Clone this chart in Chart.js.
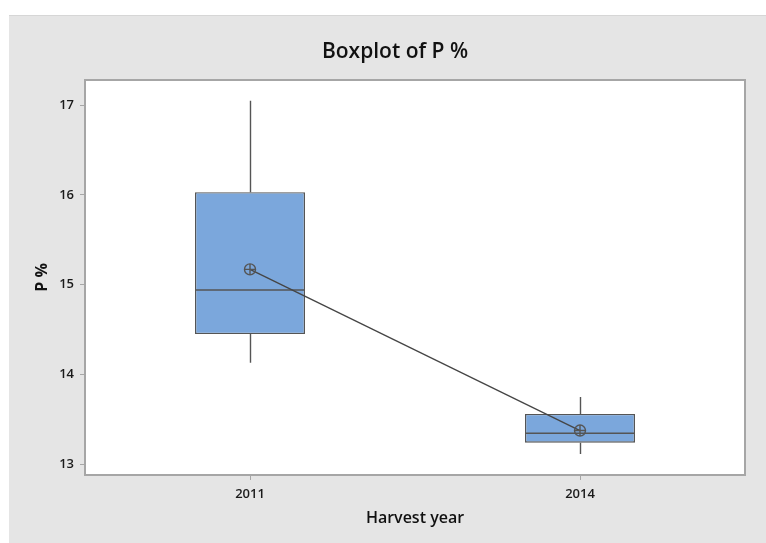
<!DOCTYPE html>
<html>
<head>
<meta charset="utf-8">
<script src="https://cdn.jsdelivr.net/npm/chart.js@4/dist/chart.umd.min.js"></script>
<style>
  html, body { margin: 0; padding: 0; background: #ffffff; }
  #wrap { width: 766px; height: 543px; }
</style>
</head>
<body>
<div id="wrap"><canvas id="chart" width="766" height="543"></canvas></div>
<script>
// Harvest years and box statistics for P %
const categories = ['2011', '2014'];
const q1Values = [14.45, 13.24];
const q3Values = [16.03, 13.56];
const medianValues = [14.94, 13.345];
const whiskerLow = [14.13, 13.115];
const whiskerHigh = [17.05, 13.75];
const meanValues = [15.17, 13.375];
const yTickValues = [13, 14, 15, 16, 17];
const chartTitle = 'Boxplot of P %';

const LINE_COLOR = '#555555';
const BOX_FILL = '#7BA7DC';
const FONT = "'Open Sans', 'Noto Sans', sans-serif";

// Gray page background, white plot area, its frame and the heading
const framePlugin = {
  id: 'frame',
  beforeDraw(chart) {
    const { ctx, chartArea: a } = chart;
    ctx.save();
    ctx.fillStyle = '#ffffff';
    ctx.fillRect(0, 0, chart.width, chart.height);
    ctx.fillStyle = '#e5e5e5';
    ctx.fillRect(9, 15, chart.width - 9, chart.height - 15);
    ctx.fillStyle = '#d6d6d6';
    ctx.fillRect(9, 15, chart.width - 9, 1);
    ctx.fillStyle = '#ffffff';
    ctx.fillRect(a.left, a.top, a.right - a.left, a.bottom - a.top);

    // heading centred over the framed panel
    ctx.fillStyle = '#111111';
    ctx.font = '600 21px ' + FONT;
    ctx.textAlign = 'center';
    ctx.textBaseline = 'middle';
    ctx.fillText(chartTitle, 395, 52);
    ctx.restore();
  },
  afterDraw(chart) {
    const { ctx, chartArea: a } = chart;
    ctx.save();
    ctx.strokeStyle = '#a6a6a6';
    ctx.lineWidth = 2;
    ctx.strokeRect(a.left, a.top, a.right - a.left, a.bottom - a.top);
    ctx.restore();
  }
};

// Whiskers and median lines, placed with the chart's own scales
const boxPartsPlugin = {
  id: 'boxParts',
  afterDatasetDraw(chart, args) {
    if (args.index !== 0) return;
    const { ctx } = chart;
    const y = chart.scales.y;
    const meta = chart.getDatasetMeta(0);
    ctx.save();
    ctx.strokeStyle = LINE_COLOR;
    ctx.lineWidth = 1.4;
    meta.data.forEach((bar, i) => {
      const cx = Math.round(bar.x) + 0.5;
      const half = bar.width / 2;
      ctx.beginPath();
      ctx.moveTo(cx, y.getPixelForValue(q3Values[i]));
      ctx.lineTo(cx, y.getPixelForValue(whiskerHigh[i]));
      ctx.moveTo(cx, y.getPixelForValue(q1Values[i]));
      ctx.lineTo(cx, y.getPixelForValue(whiskerLow[i]));
      const my = y.getPixelForValue(medianValues[i]);
      ctx.moveTo(bar.x - half, my);
      ctx.lineTo(bar.x + half, my);
      ctx.stroke();
    });
    ctx.restore();
  }
};

new Chart(document.getElementById('chart'), {
  type: 'bar',
  data: {
    labels: categories,
    datasets: [
      {
        label: 'Box',
        data: categories.map((c, i) => [q1Values[i], q3Values[i]]),
        backgroundColor: BOX_FILL,
        borderColor: LINE_COLOR,
        borderWidth: 1.4,
        borderSkipped: false,
        barPercentage: 1 / 3,
        categoryPercentage: 1,
        order: 3
      },
      {
        type: 'line',
        label: 'Mean',
        data: meanValues,
        borderColor: '#454545',
        borderWidth: 1.3,
        pointStyle: 'circle',
        pointRadius: 5.5,
        pointBorderWidth: 1.4,
        pointBorderColor: LINE_COLOR,
        pointBackgroundColor: 'rgba(0,0,0,0)',
        order: 1
      },
      {
        type: 'line',
        label: 'Mean marker',
        data: meanValues,
        showLine: false,
        pointStyle: 'cross',
        pointRadius: 5.5,
        pointBorderWidth: 1.4,
        pointBorderColor: LINE_COLOR,
        order: 0
      }
    ]
  },
  options: {
    responsive: false,
    animation: false,
    devicePixelRatio: 1,
    layout: { padding: { left: 0, right: 21, top: 80, bottom: 0 } },
    plugins: {
      legend: { display: false },
      tooltip: { enabled: false },
      title: { display: false }
    },
    scales: {
      x: {
        offset: true,
        grid: { display: true, drawOnChartArea: false, offset: false, tickLength: 5, color: '#a6a6a6' },
        border: { display: false },
        ticks: { color: '#1a1a1a', padding: 6, font: { family: FONT, size: 13, weight: '600' } },
        title: {
          display: true,
          text: 'Harvest year',
          color: '#111111',
          font: { family: FONT, size: 16, weight: '600', lineHeight: 1.2 },
          padding: { top: 0, bottom: 15 }
        },
        afterFit(scale) { scale.height = 68; }
      },
      y: {
        min: 12.88,
        max: 17.28,
        grid: { display: true, drawOnChartArea: false, tickLength: 5, color: '#a6a6a6' },
        border: { display: false },
        ticks: { color: '#1a1a1a', padding: 6, font: { family: FONT, size: 13, weight: '600' } },
        afterBuildTicks(scale) { scale.ticks = yTickValues.map(v => ({ value: v })); },
        title: {
          display: true,
          text: 'P %',
          color: '#111111',
          font: { family: FONT, size: 16, weight: '700', lineHeight: 1.2 },
          padding: { top: 33, bottom: 0 }
        },
        afterFit(scale) { scale.width = 85; }
      }
    }
  },
  plugins: [framePlugin, boxPartsPlugin]
});
</script>
</body>
</html>
